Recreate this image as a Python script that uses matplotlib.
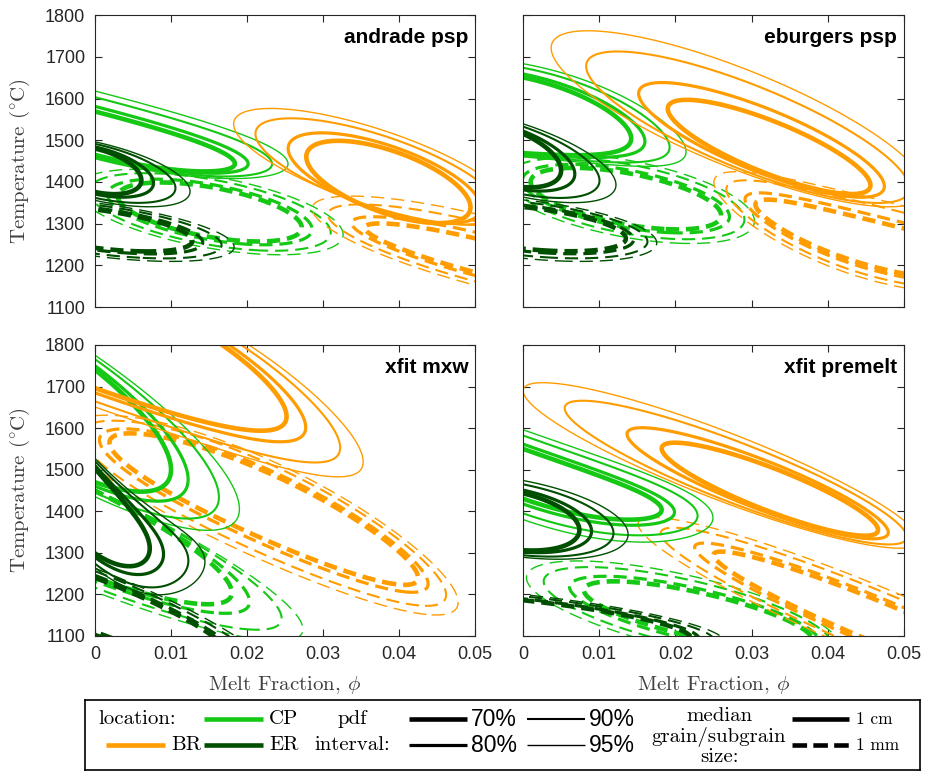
import numpy as np
import matplotlib.pyplot as plt

plt.rcParams['font.family'] = 'Liberation Sans'
plt.rcParams['mathtext.fontset'] = 'cm'
plt.rcParams['lines.scale_dashes'] = False
plt.rcParams['axes.linewidth'] = 0.8

panel_titles = ['andrade psp', 'eburgers psp', 'xfit mxw', 'xfit premelt']
location_names = ['CP', 'ER', 'BR']
location_colors = ['#14c814', '#004e00', '#ff9c00']
pdf_labels = ['70%', '80%', '90%', '95%']
pdf_widths = [3.3, 2.3, 1.5, 1.0]
pdf_growth = [0.0, 0.25, 0.7, 1.0]   # how far each interval sits between the 70% and 95% contour
grain_names = ['1 cm', '1 mm']
phi_ticks = [0, 0.01, 0.02, 0.03, 0.04, 0.05]
phi_labels = ['0', '0.01', '0.02', '0.03', '0.04', '0.05']
temp_ticks = [1100, 1200, 1300, 1400, 1500, 1600, 1700, 1800]

# shape of each pdf, rows CP, ER, BR
# mx, sx, a, b, c, sy, gx, gy, dx, dy
andrade_1cm = [[0.0, 0.0184, 1517, -47, 4, 52, 0.38, 0.56, 0.0, 20],
               [0.0, 0.0061, 1428, -39, 0, 52, 1.05, 0.35, 0.0, -2],
               [0.0386, 0.0108, 1400, -56, 0, 78, 0.7, 0.22, -0.002, 25]]
andrade_1mm = [[0.0151, 0.0121, 1328, -31, 0, 60, 0.45, 0.45, 0.0, 0],
               [0.0, 0.0128, 1288, -23, 0, 46, 0.43, 0.39, 0.0, -2],
               [0.052, 0.0165, 1215, -45.5, 0, 41, 0.42, 1.1, 0.0, 14]]
eburgers_1cm = [[-0.005, 0.0192, 1570, -15, -10, 94, 0.375, 0.21, 0.0, 12],
                [-0.003, 0.008, 1466, -48, 0, 69, 0.9, 0.3, 0.0, 0],
                [0.0323, 0.0133, 1484, -69, 0, 66, 0.85, 0.9, -0.004, 40]]
eburgers_1mm = [[0.0135, 0.0125, 1360, -32, 0, 62, 0.35, 0.5, 0.0, 0],
                [0.0, 0.0135, 1290, -19, 0, 50, 0.3, 0.4, 0.0, -3],
                [0.047, 0.0165, 1247, -45, 9, 55, 0.33, 0.8, 0.0, 10]]
mxw_1cm = [[-0.008, 0.018, 1689, -105, 0, 151, 0.5, 0.18, 0.0, 0],
           [-0.006, 0.0132, 1523, -240, 60, 114.5, 0.55, 0.2, 0.0, -5],
           [0.0, 0.0252, 1826, -64, -5.8, 130, 0.4, 0.28, 0.0, -9]]
mxw_1mm = [[-0.008, 0.026, 1407, -78, 0, 110, 0.36, 0.15, 0.0, -15],
           [0.0, 0.018, 1175, -70, 0, 65, 0.3, 0.35, 0.0, 0],
           [0.0222, 0.0203, 1415, -80, -3, 82, 0.26, 0.52, 0.0, -10]]
premelt_1cm = [[0.0, 0.0182, 1490, -64, 9, 60, 0.37, 0.8, 0.0, -2],
               [-0.002, 0.0094, 1380, -27, 0, 70, 0.68, 0.33, 0.0, 7],
               [0.0324, 0.0142, 1453, -69, 0, 54, 0.83, 0.6, -0.0064, 13]]
premelt_1mm = [[0.023, 0.015, 1150, -40, 0, 55, 0.37, 0.65, -0.002, 0],
               [0.0, 0.022, 1140, -20, 0, 46, 0.2, 0.3, 0.0, 0],
               [0.047, 0.022, 1130, -75, 0, 52, 0.45, 0.7, 0.0, 0]]

panel_data = [(andrade_1cm, andrade_1mm), (eburgers_1cm, eburgers_1mm),
              (mxw_1cm, mxw_1mm), (premelt_1cm, premelt_1mm)]

dash = (0, (9.5, 5))
PH, TT = np.meshgrid(np.linspace(-0.06, 0.11, 700), np.linspace(800, 2300, 700))


def draw_pdf(ax, p, color, ls):
    mx, sx, a, b, c, sy, gx, gy, dx, dy = p
    s = (PH - mx) / 0.01
    for f, lw in zip(pdf_growth, pdf_widths):
        u = (PH - (mx + dx * f)) / (sx * (1 + gx * f))
        t0 = a + dy * f + b * s + c * s ** 2
        v = (TT - t0) / (sy * (1 + gy * f))
        ax.contour(PH, TT, u ** 2 + v ** 2, levels=[1.0], colors=[color],
                   linewidths=[lw], linestyles=[ls])


fig = plt.figure(figsize=(9.26, 7.72), dpi=100)
boxes = [[0.1026, 0.6023, 0.4104, 0.378], [0.5648, 0.6023, 0.4114, 0.378],
         [0.1026, 0.1762, 0.4104, 0.377], [0.5648, 0.1762, 0.4114, 0.377]]

for i, (box, title, (cm_rows, mm_rows)) in enumerate(zip(boxes, panel_titles, panel_data)):
    ax = fig.add_axes(box)
    for rows, ls in [(mm_rows, dash), (cm_rows, 'solid')]:
        for p, col in zip(rows, location_colors):
            draw_pdf(ax, p, col, ls)
    ax.set_xlim(0, 0.05)
    ax.set_ylim(1100, 1800)
    ax.set_xticks(phi_ticks)
    ax.set_yticks(temp_ticks)
    ax.set_xticklabels(phi_labels if i >= 2 else [])
    ax.set_yticklabels([str(t) for t in temp_ticks] if i % 2 == 0 else [])
    ax.tick_params(direction='in', top=True, right=True, length=5, width=0.8,
                   labelsize=13, colors='#262626', pad=7)
    for sp in ax.spines.values():
        sp.set_color('#262626')
    ax.text(0.982, 0.955, title, transform=ax.transAxes, ha='right', va='top',
            fontsize=15, fontweight='bold')
    if i % 2 == 0:
        ax.set_ylabel('Temperature ($^{\\circ}$C)', family='cmr10', fontsize=15, color='#404040')
        ax.yaxis.set_label_coords(-0.165, 0.5)
    if i >= 2:
        ax.set_xlabel('Melt Fraction, $\\phi$', family='cmr10', fontsize=15, color='#404040')
        ax.xaxis.set_label_coords(0.5, -0.13)

# legend box, drawn in pixel-like units of the figure
lg = fig.add_axes([85 / 926, 2 / 772, 835 / 926, 70 / 772])
lg.set_xlim(85, 920)
lg.set_ylim(772, 702)
lg.set_xticks([])
lg.set_yticks([])
for sp in lg.spines.values():
    sp.set_linewidth(1.2)
y1, y2 = 721, 747
serif = dict(family='cmr10', fontsize=15, va='center')

lg.text(98, y1, 'location:', **serif)
loc_slots = [(204, y1), (204, y2), (106, y2)]
for name, col, (x0, y) in zip(location_names, location_colors, loc_slots):
    lg.plot([x0, x0 + 59], [y, y], color=col, lw=3.3, solid_capstyle='butt')
    lg.text(x0 + 65, y, name, **serif)

lg.text(352, y1, 'pdf', ha='center', **serif)
lg.text(352, y2, 'interval:', ha='center', **serif)
pdf_slots = [(409, y1), (409, y2), (527, y1), (527, y2)]
for lab, lw, (x0, y) in zip(pdf_labels, pdf_widths, pdf_slots):
    lg.plot([x0, x0 + 58], [y, y], color='black', lw=lw, solid_capstyle='butt')
    lg.text(x0 + 62, y, lab, fontsize=16.5, va='center')

lg.text(719, 718, 'median', ha='center', **serif)
lg.text(719, 739, 'grain/subgrain', ha='center', **serif)
lg.text(719, 759, 'size:', ha='center', **serif)
for lab, ls, y in zip(grain_names, ['solid', (0, (10.5, 4.5))], [y1, y2]):
    lg.plot([792, 849], [y, y], color='black', lw=3.3, linestyle=ls,
            solid_capstyle='butt', dash_capstyle='butt')
    lg.text(856, y, lab, family='cmr10', fontsize=12.5, va='center')

fig.savefig('out.png', dpi=100)
